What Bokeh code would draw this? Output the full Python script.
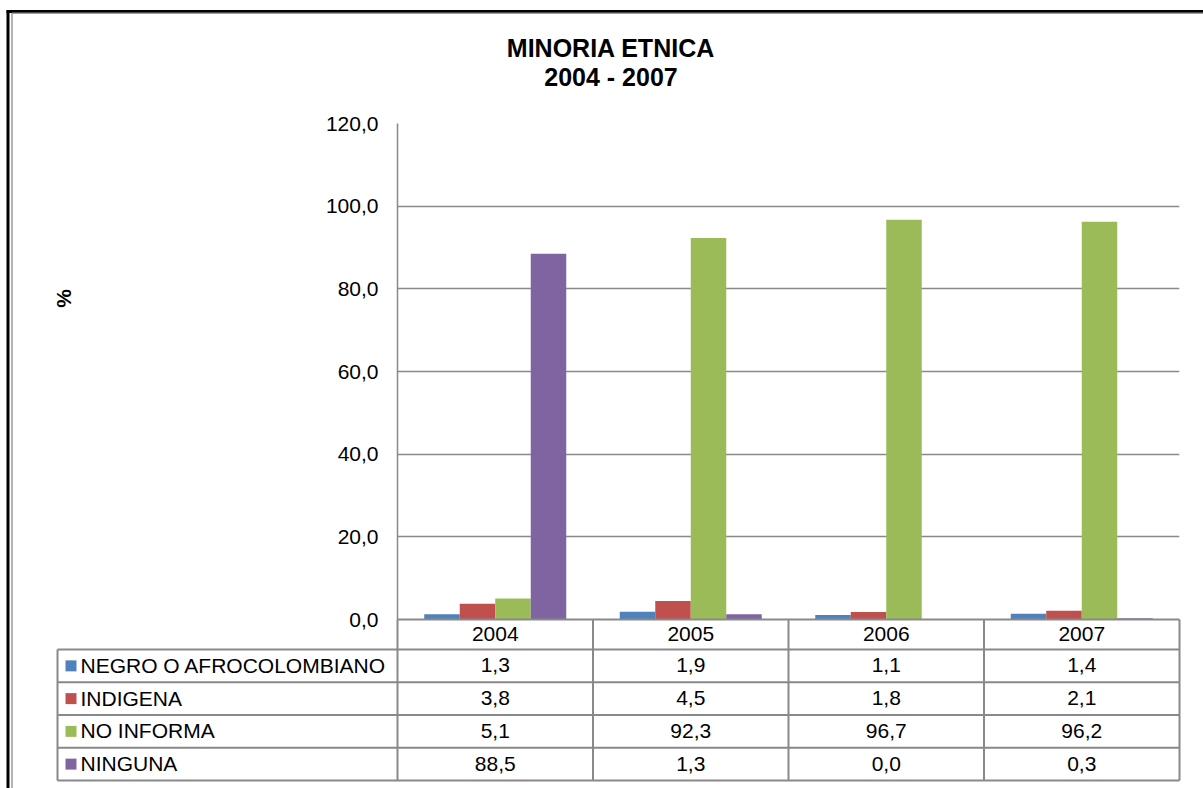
from math import pi
from bokeh.plotting import figure
from bokeh.models import Range1d, FixedTicker
from bokeh.core.properties import value
from bokeh.embed import file_html
from bokeh.resources import INLINE

# ---------------- data ----------------
title_lines = ["MINORIA ETNICA", "2004 - 2007"]
y_label = "%"
years = ["2004", "2005", "2006", "2007"]
series_names = ["NEGRO O AFROCOLOMBIANO", "INDIGENA", "NO INFORMA", "NINGUNA"]
negro = [1.3, 1.9, 1.1, 1.4]
indigena = [3.8, 4.5, 1.8, 2.1]
no_informa = [5.1, 92.3, 96.7, 96.2]
ninguna = [88.5, 1.3, 0.0, 0.3]
y_ticks = [0, 20, 40, 60, 80, 100, 120]
y_tick_labels = ["0,0", "20,0", "40,0", "60,0", "80,0", "100,0", "120,0"]

series_values = [negro, indigena, no_informa, ninguna]
colors = ["#4F81BD", "#C0504D", "#9BBB59", "#8064A2"]

# ---------------- layout (pixels) ----------------
W, H = 1203, 788
FRAME_L, FRAME_R, FRAME_T, FRAME_B = 397, 1179, 123, 619
n_cat = len(years)
PX_X = (FRAME_R - FRAME_L) / n_cat
PX_Y = (FRAME_B - FRAME_T) / (y_ticks[-1] - y_ticks[0])
BASE_SHIFT = -8  # renderer places alphabetic baseline lower than requested


def dx(px):
    return (px - FRAME_L) / PX_X


def dy(py):
    return (FRAME_B - py) / PX_Y


FONT = value("Liberation Sans")
GRAY = "#898989"
TXT = "21px"

p = figure(width=W, height=H,
           x_range=Range1d(0, n_cat), y_range=Range1d(y_ticks[0], y_ticks[-1]),
           x_axis_location=None,
           min_border_left=FRAME_L, min_border_right=W - FRAME_R,
           min_border_top=FRAME_T, min_border_bottom=H - FRAME_B,
           output_backend="svg", toolbar_location=None)
p.outline_line_color = None
p.background_fill_color = "white"
p.border_fill_color = "white"
p.xgrid.visible = False
p.ygrid.ticker = FixedTicker(ticks=y_ticks)
p.ygrid.grid_line_color = GRAY
p.ygrid.grid_line_width = 1.5

ax = p.yaxis[0]
ax.ticker = FixedTicker(ticks=y_ticks)
ax.major_label_overrides = {t: l for t, l in zip(y_ticks, y_tick_labels)}
ax.major_tick_in = 0
ax.major_tick_out = 0
ax.minor_tick_in = 0
ax.minor_tick_out = 0
ax.axis_line_color = GRAY
ax.axis_line_width = 1.5
ax.major_label_standoff = 19
ax.major_label_text_font = "Liberation Sans"
ax.major_label_text_font_size = TXT
ax.major_label_text_color = "black"

# ---------------- bars ----------------
bar_w = 35.5 / PX_X
n_s = len(series_values)
for k, (vals, col) in enumerate(zip(series_values, colors)):
    xs = [i + 0.5 + (k - (n_s - 1) / 2) * bar_w for i in range(n_cat)]
    p.vbar(x=xs, top=vals, bottom=0, width=bar_w, fill_color=col, line_color=None)

# ---------------- data table ----------------
HEAD_T, HEAD_B = FRAME_B, 649
ROW_H = 32.75
LEG_L = 57
col_edges = [FRAME_L + i * PX_X for i in range(n_cat + 1)]
row_edges = [HEAD_B + r * ROW_H for r in range(n_s + 1)]

x0s, y0s, x1s, y1s = [], [], [], []
x0s.append(dx(FRAME_L)); x1s.append(dx(FRAME_R)); y0s.append(dy(HEAD_T)); y1s.append(dy(HEAD_T))
for ry in row_edges:
    x0s.append(dx(LEG_L)); x1s.append(dx(FRAME_R)); y0s.append(dy(ry)); y1s.append(dy(ry))
for cx in col_edges:
    x0s.append(dx(cx)); x1s.append(dx(cx)); y0s.append(dy(HEAD_T)); y1s.append(dy(row_edges[-1]))
x0s.append(dx(LEG_L)); x1s.append(dx(LEG_L)); y0s.append(dy(HEAD_B)); y1s.append(dy(row_edges[-1]))
p.segment(x0=x0s, y0=y0s, x1=x1s, y1=y1s, line_color=GRAY, line_width=2, level="overlay")

# years in header
p.text(x=[i + 0.5 for i in range(n_cat)],
       y=[dy((HEAD_T + HEAD_B) / 2 + 7.5 + BASE_SHIFT)] * n_cat,
       text=years, text_font=FONT, text_font_size=TXT, text_align="center",
       text_baseline="alphabetic", text_color="black", level="overlay")

# legend column and values
for k, (name, vals, col) in enumerate(zip(series_names, series_values, colors)):
    cy = row_edges[k] + ROW_H / 2
    ty = dy(cy + 7.5 + BASE_SHIFT)
    p.segment(x0=[dx(65)], y0=[dy(cy)], x1=[dx(76)], y1=[dy(cy)], line_color=col,
              line_width=11, line_cap="butt", level="overlay")
    p.text(x=[dx(80)], y=[ty], text=[name], text_font=FONT, text_font_size=TXT,
           text_align="left", text_baseline="alphabetic", text_color="black", level="overlay")
    labels = [f"{v:.1f}".replace(".", ",") for v in vals]
    p.text(x=[i + 0.5 for i in range(n_cat)], y=[ty] * n_cat, text=labels,
           text_font=FONT, text_font_size=TXT, text_align="center",
           text_baseline="alphabetic", text_color="black", level="overlay")

# ---------------- title and axis label ----------------
p.text(x=[dx(610.5)] * 2, y=[dy(56 + BASE_SHIFT - 1), dy(85 + BASE_SHIFT - 1)],
       text=title_lines, text_font=FONT,
       text_font_size="25px", text_font_style="bold", text_align="center",
       text_baseline="alphabetic", text_color="black", level="overlay")
p.text(x=[dx(63)], y=[dy(298)], text=[y_label], text_font=FONT, text_font_size="21px",
       text_font_style="bold", text_align="center", text_baseline="middle", angle=pi / 2,
       text_color="black", level="overlay")

# ---------------- chart frame border ----------------
bottom_y = dy(H + 5)
right_x = dx(W + 5)
p.segment(x0=[dx(7.5), dx(6)], y0=[dy(10), dy(11)], x1=[dx(7.5), right_x], y1=[bottom_y, dy(11)],
          line_color="black", line_width=3, level="overlay")
p.segment(x0=[dx(11.5), dx(11.5)], y0=[dy(12.8), dy(12.8)], x1=[dx(11.5), right_x],
          y1=[bottom_y, dy(12.8)], line_color="#9a9a9a", line_width=1.5, level="overlay")

open("out.html", "w").write(file_html(p, INLINE))
